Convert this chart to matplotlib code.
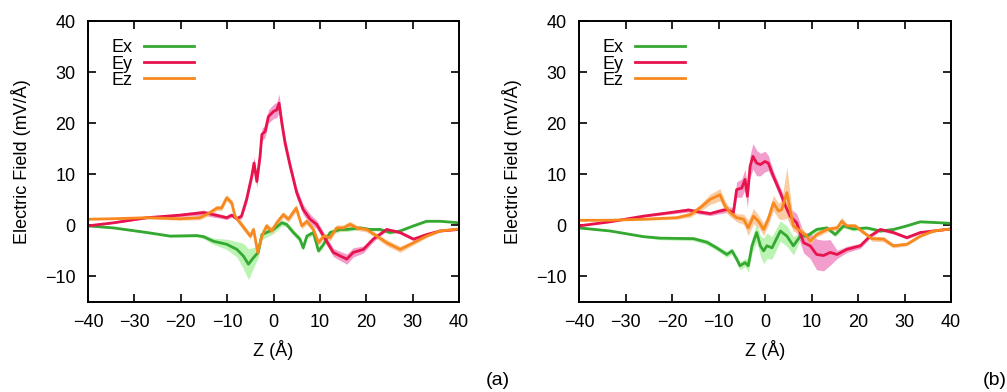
import numpy as np
import matplotlib
matplotlib.use('Agg')
import matplotlib.pyplot as plt

plt.rcParams['font.family'] = ['Liberation Sans', 'DejaVu Sans']

# ---- panel (a) ----
a_ex_z = [-40, -34.5, -27.3, -22.3, -16.6, -15.1, -13.0, -10.1, -7.9, -6.5, -5.4, -4.3, -3.3,
          -2.5, -1.5, 0.0, 1.8, 2.8, 4.3, 5.7, 6.4, 7.2, 8.6, 9.7, 10.8, 12.2, 14.4, 15.8,
          18.7, 20.8, 23.0, 25.1, 27.3, 30.2, 33.0, 35.9, 40]
a_ex = [-0.1, -0.5, -1.4, -2.1, -2.0, -2.2, -3.1, -3.7, -4.7, -6.0, -7.6, -6.3, -5.3,
        -1.8, -1.4, -0.8, 0.5, 0.2, -1.4, -2.7, -4.4, -2.1, -1.4, -5.0, -3.7, -1.4, -0.8, -0.8,
        -0.5, -0.8, -0.8, -1.4, -1.1, -0.1, 0.8, 0.8, 0.5]
a_ex_err = [0.1, 0.1, 0.2, 0.2, 0.3, 0.4, 0.6, 1.0, 1.5, 2.5, 3.0, 2.0, 1.0,
            1.0, 0.9, 0.8, 0.6, 0.5, 0.6, 0.6, 0.6, 0.5, 0.5, 0.5, 0.5, 0.5, 0.4, 0.4,
            0.3, 0.3, 0.3, 0.3, 0.2, 0.2, 0.2, 0.1, 0.1]

a_ey_z = [-40, -34.5, -27.3, -20.2, -15.1, -13.0, -11.5, -10.1, -9.0, -7.9, -6.9, -5.8, -4.7,
          -4.2, -3.6, -2.9, -2.5, -1.8, -1.1, 0.0, 0.7, 1.2, 1.8, 2.5, 3.6, 5.0, 6.4, 7.9,
          9.3, 10.8, 12.9, 14.4, 15.8, 17.2, 19.4, 21.5, 24.4, 27.3, 30.2, 33.0, 35.9, 40]
a_ey = [-0.1, 0.5, 1.5, 2.0, 2.5, 2.1, 1.8, 1.5, 2.0, 1.3, 1.8, 5.1, 9.6,
        12.2, 8.6, 13.5, 17.8, 18.4, 21.3, 22.3, 22.6, 23.9, 20.0, 16.1, 11.6, 6.4, 3.1, 1.2,
        0.2, -2.1, -5.3, -6.0, -6.6, -5.3, -4.7, -2.7, -0.8, -1.4, -2.7, -1.8, -1.1, -0.8]
a_ey_err = [0.1, 0.1, 0.2, 0.3, 0.5, 0.5, 0.4, 0.4, 0.4, 0.4, 0.5, 0.8, 1.0,
            1.2, 1.2, 1.2, 1.2, 1.2, 1.3, 1.4, 1.5, 1.8, 1.5, 1.2, 1.0, 1.0, 1.0, 1.0,
            0.8, 0.8, 0.8, 0.9, 1.0, 0.9, 0.7, 0.5, 0.3, 0.3, 0.3, 0.2, 0.2, 0.1]

a_ez_z = [-40, -34.5, -27.3, -20.2, -15.9, -13.7, -12.2, -11.2, -10.1, -9.0, -8.3, -7.2, -6.1,
          -5.0, -4.3, -3.4, -2.5, -1.5, -0.4, 0.7, 2.1, 3.2, 4.9, 6.1, 7.2, 8.6, 9.7, 10.8,
          12.2, 13.6, 15.1, 16.5, 18.0, 20.1, 22.3, 24.4, 27.3, 30.2, 33.0, 35.9, 40]
a_ez = [1.2, 1.3, 1.5, 1.3, 1.5, 2.5, 3.4, 3.4, 5.4, 4.4, 1.8, 0.5, -0.8,
        -2.1, -0.8, -5.3, -2.1, -0.1, -1.1, 0.5, 2.1, 1.2, 3.4, -0.1, 0.8, -0.8, -3.4, -2.1,
        -2.4, -0.5, -0.5, 0.2, -0.5, -0.8, -2.1, -3.4, -4.7, -3.4, -2.1, -1.1, -0.7]
a_ez_err = [0.1, 0.1, 0.2, 0.3, 0.4, 0.5, 0.5, 0.5, 0.6, 0.6, 0.6, 0.6, 0.6,
            0.6, 0.6, 0.8, 0.7, 0.6, 0.6, 0.6, 0.6, 0.6, 0.7, 0.6, 0.6, 0.6, 0.6, 0.6,
            0.6, 0.6, 0.6, 0.6, 0.5, 0.5, 0.5, 0.6, 0.6, 0.4, 0.3, 0.2, 0.1]

# ---- panel (b) ----
b_ex_z = [-40, -33.3, -26.2, -22.6, -15.4, -12.5, -10.4, -8.2, -7.1, -6.1, -5.4, -4.3, -3.6,
          -2.8, -1.8, -1.0, -0.3, 0.4, 1.5, 3.3, 4.7, 6.1, 7.6, 9.0, 11.1, 13.3, 15.1, 16.9,
          19.0, 21.9, 24.8, 27.6, 30.5, 33.4, 40]
b_ex = [-0.5, -1.1, -2.2, -2.5, -2.6, -3.3, -4.4, -5.7, -5.0, -6.6, -7.9, -7.3, -7.9,
        -4.0, -1.4, -4.0, -5.0, -4.0, -4.4, -1.1, -2.1, -4.0, -2.1, -2.1, -0.8, -0.5, -1.8, -0.1,
        -0.7, -0.5, -1.1, -0.8, -0.1, 0.7, 0.4]
b_ex_err = [0.1, 0.1, 0.2, 0.3, 0.4, 0.5, 0.5, 0.6, 0.6, 0.7, 0.8, 0.8, 1.2,
            1.5, 1.8, 2.0, 2.5, 2.5, 2.2, 2.0, 2.0, 1.8, 0.8, 0.5, 0.4, 0.4, 0.4, 0.4,
            0.4, 0.3, 0.3, 0.2, 0.2, 0.2, 0.1]

b_ey_z = [-40, -33.3, -26.2, -20.4, -16.5, -14.0, -11.8, -9.7, -8.2, -6.8, -6.1, -5.0, -4.3,
          -3.8, -3.2, -2.6, -1.8, -1.0, 0.0, 0.7, 1.8, 3.3, 4.4, 5.4, 6.8, 8.3, 9.7, 11.1,
          12.6, 14.0, 15.5, 17.6, 20.5, 22.6, 24.8, 27.6, 30.5, 33.4, 40]
b_ey = [-0.1, 0.7, 1.8, 2.5, 3.0, 2.6, 2.3, 2.8, 3.1, 2.5, 7.0, 7.3, 9.0,
        5.7, 11.6, 13.5, 12.2, 11.9, 12.5, 12.2, 9.6, 6.4, 3.8, 1.8, 0.5, -3.4, -4.0, -5.7,
        -5.9, -5.3, -5.7, -4.7, -4.0, -2.1, -0.8, -1.4, -2.4, -1.4, -0.7]
b_ey_err = [0.1, 0.1, 0.2, 0.3, 0.4, 0.4, 0.4, 0.5, 0.6, 1.0, 1.5, 1.8, 2.0,
            2.2, 2.2, 2.5, 2.5, 2.2, 2.0, 1.5, 1.0, 1.0, 1.2, 1.5, 1.8, 2.0, 2.5, 3.0,
            3.0, 2.5, 0.8, 0.6, 0.5, 0.4, 0.3, 0.3, 0.3, 0.2, 0.1]

b_ez_z = [-40, -33.3, -26.2, -19.0, -16.1, -14.0, -11.8, -9.7, -8.6, -7.5, -6.1, -4.6, -3.6,
          -2.5, -1.4, -0.3, 0.7, 1.8, 2.9, 3.6, 4.7, 5.4, 6.1, 7.6, 9.0, 9.7, 11.1, 13.3,
          15.5, 16.5, 17.6, 19.4, 21.2, 23.0, 25.5, 27.6, 30.5, 33.4, 36.3, 40]
b_ez = [1.0, 1.0, 1.2, 1.5, 2.1, 3.4, 5.1, 6.0, 3.8, 2.5, 1.5, 1.2, -0.5,
        1.8, 0.8, -0.8, 1.2, 4.4, 2.8, 3.1, 6.4, 3.1, -0.1, -1.1, -2.1, -3.1, -1.8, -0.8,
        -0.5, 0.8, -0.1, -0.1, -1.4, -2.6, -2.7, -4.0, -3.7, -2.1, -1.1, -0.7]
b_ez_err = [0.1, 0.1, 0.2, 0.3, 0.5, 0.7, 1.0, 1.2, 1.0, 0.8, 0.8, 1.0, 1.5,
            1.5, 1.2, 1.2, 1.2, 1.5, 1.5, 2.0, 5.0, 3.0, 1.0, 0.8, 0.6, 0.6, 0.5, 0.5,
            0.5, 0.8, 0.4, 0.4, 0.4, 0.5, 0.5, 0.4, 0.3, 0.3, 0.2, 0.1]

labels = ['Ex', 'Ey', 'Ez']
line_colors = ['#35a832', '#e8124c', '#f7891e']
band_colors = ['#b0f2a6', '#f08cc4', '#f9c494']

panels = [
  [(a_ex_z, a_ex, a_ex_err), (a_ey_z, a_ey, a_ey_err), (a_ez_z, a_ez, a_ez_err)],
  [(b_ex_z, b_ex, b_ex_err), (b_ey_z, b_ey, b_ey_err), (b_ez_z, b_ez, b_ez_err)],
]
panel_tags = ['(a)', '(b)']
axes_rects = [[0.0874, 0.2296, 0.3684, 0.7168], [0.575, 0.2296, 0.3694, 0.7168]]
tag_x = [0.494, 0.988]

fig = plt.figure(figsize=(10.07, 3.92), dpi=100)

for rect, series, tag, tx in zip(axes_rects, panels, panel_tags, tag_x):
  ax = fig.add_axes(rect)
  # bands first, then lines on top
  for (z, v, e), bc in zip(series, band_colors):
    z = np.array(z); v = np.array(v); e = np.array(e)
    ax.fill_between(z, v - e, v + e, color=bc, lw=0, alpha=0.85)
  for (z, v, e), lc, lab in zip(series, line_colors, labels):
    ax.plot(z, v, color=lc, lw=2.0, label=lab)

  ax.set_xlim(-40, 40)
  ax.set_ylim(-15, 40)
  ax.set_xticks(np.arange(-40, 41, 10))
  ax.set_yticks(np.arange(-10, 41, 10))
  ax.tick_params(direction='in', length=6, width=1.2, top=True, right=True,
                 labelsize=13, pad=9)
  for sp in ax.spines.values():
    sp.set_linewidth(1.4)
  ax.set_xlabel('Z (Å)', fontsize=13, labelpad=6)
  ax.set_ylabel('Electric Field (mV/Å)', fontsize=13, labelpad=10)

  leg = ax.legend(loc='upper left', bbox_to_anchor=(0.045, 0.96), frameon=False,
                  markerfirst=False, fontsize=13, labelspacing=-0.05,
                  handlelength=2.8, handletextpad=0.6, borderaxespad=0)
  fig.text(tx, 0.03, tag, fontsize=14, ha='center', va='center')

fig.savefig('out.png', dpi=100)
